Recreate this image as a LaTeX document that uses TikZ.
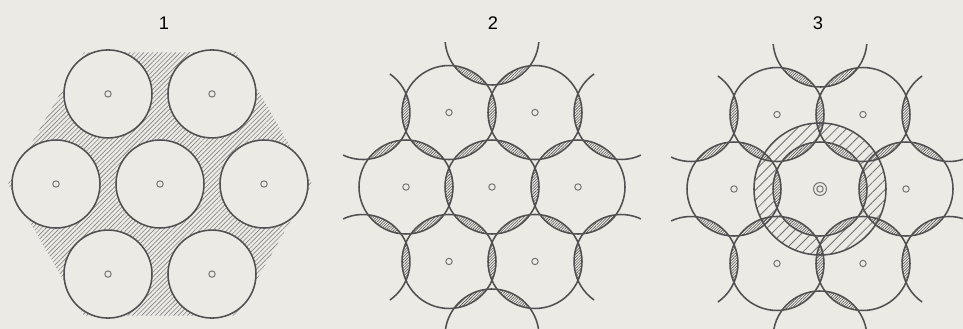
\documentclass[tikz,border=0pt]{standalone}
\usepackage{fontspec}
\setsansfont{Liberation Sans}
\usepackage{tikz}
\usetikzlibrary{patterns.meta}
\definecolor{paper}{RGB}{236,234,229}
\definecolor{ink}{RGB}{80,80,80}
\begin{document}
\begin{tikzpicture}[
    x=0.025cm, y=-0.025cm,
    cell/.style={draw=ink, line width=1.1pt},
    dot/.style={draw=ink!80, line width=0.7pt},
    hatch/.style={pattern={Lines[angle=45, distance=2.3pt, line width=0.45pt]}, pattern color=ink!70},
    lens/.style={pattern={Lines[angle=45, distance=1.4pt, line width=0.4pt]}, pattern color=ink},
    annulus/.style={pattern={Lines[angle=45, distance=5pt, line width=0.6pt]}, pattern color=ink!80},
    numlabel/.style={font=\sffamily\fontsize{13}{15}\selectfont, text=black}
  ]
  \fill[paper] (0,0) rectangle (963,329);
  \useasboundingbox (0,0) rectangle (963,329);

  \coordinate (c1) at (160,184);
  \coordinate (c2) at (492,187);
  \coordinate (c3) at (820,189);

  \node[numlabel] (lbl1) at (164,23) {1};
  \node[numlabel] (lbl2) at (493,23) {2};
  \node[numlabel] (lbl3) at (818,23) {3};

  % 1: touching cells, gaps hatched
  \fill[hatch] (c1) +(0:152) -- +(60:152) -- +(120:152) -- +(180:152)
    -- +(240:152) -- +(300:152) -- cycle;
  \draw[cell, fill=paper] (c1) circle[radius=44];
  \draw[dot] (c1) circle[radius=3.2];
  \foreach \a in {0,60,...,300} {
    \draw[cell, fill=paper] (c1) ++(\a:104) circle[radius=44];
    \draw[dot] (c1) ++(\a:104) circle[radius=3.2];
  }

  % 3: hatched ring round the middle cell
  \fill[annulus, even odd rule] (c3) circle[radius=66] (c3) circle[radius=47];

  % 2 and 3: overlapping cells, overlaps hatched
  \foreach \c in {c2,c3} {
    \begin{scope}
      \clip (\c) circle[radius=47];
      \foreach \a in {0,60,...,300}
        \fill[lens] (\c) ++(\a:86) circle[radius=47];
    \end{scope}
    \foreach \a in {0,60,...,300} {
      \begin{scope}
        \clip (\c) ++(\a:86) circle[radius=47];
        \fill[lens] (\c) ++(\a+60:86) circle[radius=47];
      \end{scope}
      \begin{scope}
        \clip (\c) ++(\a+30:149) circle[radius=47];
        \fill[lens] (\c) ++(\a:86) circle[radius=47] (\c) ++(\a+60:86) circle[radius=47];
      \end{scope}
    }
    \draw[cell] (\c) circle[radius=47];
    \foreach \a in {0,60,...,300} {
      \draw[cell] (\c) ++(\a:86) circle[radius=47];
      \draw[cell] (\c) ++(\a+30:149) ++(\a+125:47) arc[start angle=\a+125, delta angle=170, radius=47];
      \draw[dot] (\c) ++(\a:86) circle[radius=3.2];
    }
  }
  \draw[dot] (c2) circle[radius=3.2];
  \draw[dot] (c3) circle[radius=3.2];
  \draw[dot] (c3) circle[radius=6.5];
  \draw[cell] (c3) circle[radius=66];
\end{tikzpicture}
\end{document}
